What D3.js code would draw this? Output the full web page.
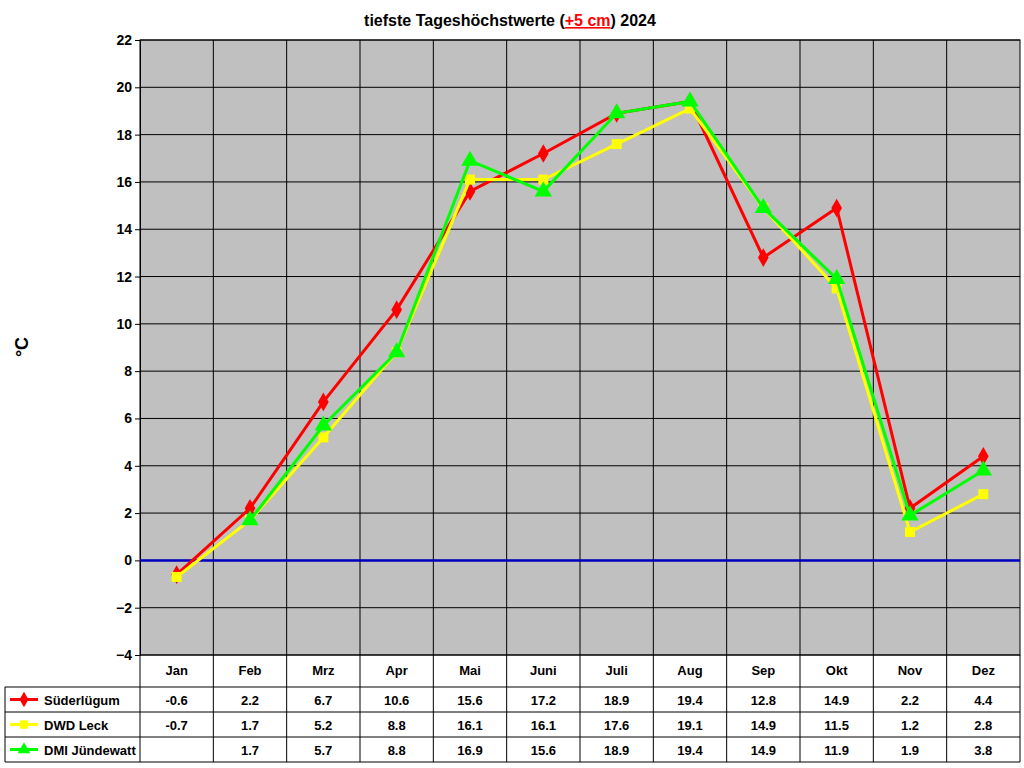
<!DOCTYPE html>
<html><head><meta charset="utf-8">
<script src="https://cdn.jsdelivr.net/npm/d3@7"></script>
<style>body{margin:0;background:#fff}svg{font-family:"Liberation Sans",Arial,sans-serif}</style>
</head><body><svg width="1024" height="768"></svg>
<script>
const months = ["Jan","Feb","Mrz","Apr","Mai","Juni","Juli","Aug","Sep","Okt","Nov","Dez"];
const suederluegum = [-0.6,2.2,6.7,10.6,15.6,17.2,18.9,19.4,12.8,14.9,2.2,4.4];
const dwdLeck = [-0.7,1.7,5.2,8.8,16.1,16.1,17.6,19.1,14.9,11.5,1.2,2.8];
const dmiJuendewatt = [null,1.7,5.7,8.8,16.9,15.6,18.9,19.4,14.9,11.9,1.9,3.8];
const yTicks = d3.range(-4, 23, 2);

const series = [
  {name:"Süderlügum", values:suederluegum, color:"#ff0000", shape:d3.symbolDiamond},
  {name:"DWD Leck", values:dwdLeck, color:"#ffff00", shape:d3.symbolSquare},
  {name:"DMI Jündewatt", values:dmiJuendewatt, color:"#00ff00", shape:d3.symbolTriangle}
];

const svg = d3.select("svg");
const pLeft = 140, pRight = 1020, pTop = 40, pBottom = 655;
const x = d3.scaleBand().domain(months).range([pLeft, pRight]);
const y = d3.scaleLinear().domain([-4, 22]).range([pBottom, pTop]);

// plot area
svg.append("rect").attr("x", pLeft).attr("y", pTop).attr("width", pRight - pLeft).attr("height", pBottom - pTop)
  .attr("fill", "#c0c0c0");

// grid
svg.append("g").selectAll("line").data(yTicks).join("line")
  .attr("x1", pLeft).attr("x2", pRight).attr("y1", d => y(d)).attr("y2", d => y(d))
  .attr("stroke", "#000").attr("stroke-width", 1);
svg.append("g").selectAll("line").data(months.slice(1)).join("line")
  .attr("x1", d => x(d)).attr("x2", d => x(d)).attr("y1", pTop).attr("y2", pBottom)
  .attr("stroke", "#000");
svg.append("rect").attr("x", pLeft).attr("y", pTop).attr("width", pRight - pLeft).attr("height", pBottom - pTop)
  .attr("fill", "none").attr("stroke", "#000");

// y axis
const ya = svg.append("g").attr("transform", `translate(${pLeft},0)`)
  .call(d3.axisLeft(y).tickValues(yTicks).tickSize(5).tickFormat(d3.format("d")));
ya.select(".domain").attr("stroke", "#000");
ya.selectAll("text").attr("font-size", 14).attr("font-weight", "bold").attr("font-family", "Liberation Sans, Arial").attr("fill", "#000");

// zero line
svg.append("line").attr("x1", pLeft).attr("x2", pRight).attr("y1", y(0)).attr("y2", y(0))
  .attr("stroke", "#0000c0").attr("stroke-width", 2.5);

// lines
const cx = d => x(d) + x.bandwidth() / 2;
series.forEach(s => {
  const pts = months.map((m, i) => ({m, v: s.values[i]}));
  const line = d3.line().defined(d => d.v != null).x(d => cx(d.m)).y(d => y(d.v));
  svg.append("path").datum(pts).attr("d", line).attr("fill", "none")
    .attr("stroke", s.color).attr("stroke-width", 3);
  svg.append("g").selectAll("path").data(pts.filter(d => d.v != null)).join("path")
    .attr("transform", d => `translate(${cx(d.m)},${y(d.v)})`)
    .attr("d", d3.symbol().type(s.shape).size(s.shape === d3.symbolTriangle ? 130 : 100))
    .attr("fill", s.color);
});

// title
const t = svg.append("text").attr("x", 510).attr("y", 26).attr("text-anchor", "middle")
  .attr("font-size", 16).attr("font-weight", "bold");
t.append("tspan").text("tiefste Tageshöchstwerte (");
t.append("tspan").text("+5 cm").attr("fill", "#ff0000").attr("text-decoration", "underline");
t.append("tspan").text(") 2024");

// y label
svg.append("text").attr("transform", "translate(28,347) rotate(-90)").attr("text-anchor", "middle")
  .attr("font-size", 18).attr("font-weight", "bold").text("°C");

// table
const rowH = 25, tblTop = 687;
const tbl = svg.append("g").attr("font-size", 13).attr("font-weight", "bold");
tbl.selectAll("text.m").data(months).join("text").attr("class", "m")
  .attr("x", d => cx(d)).attr("y", 675).attr("text-anchor", "middle").text(d => d);
tbl.selectAll("line.v").data(months.concat(["_end"])).join("line").attr("class", "v")
  .attr("x1", d => d === "_end" ? pRight : x(d)).attr("x2", d => d === "_end" ? pRight : x(d))
  .attr("y1", pBottom).attr("y2", tblTop + 3 * rowH).attr("stroke", "#000");
svg.append("line").attr("x1", 5).attr("x2", 5).attr("y1", tblTop).attr("y2", tblTop + 3 * rowH).attr("stroke", "#000");
d3.range(4).forEach(r => {
  svg.append("line").attr("x1", 5).attr("x2", pRight).attr("y1", tblTop + r * rowH).attr("y2", tblTop + r * rowH).attr("stroke", "#000");
});
series.forEach((s, r) => {
  const yy = tblTop + r * rowH + rowH / 2;
  svg.append("line").attr("x1", 10).attr("x2", 38).attr("y1", yy).attr("y2", yy).attr("stroke", s.color).attr("stroke-width", 3);
  svg.append("path").attr("transform", `translate(24,${yy})`)
    .attr("d", d3.symbol().type(s.shape).size(70)).attr("fill", s.color);
  tbl.append("text").attr("x", 44).attr("y", yy + 5).text(s.name);
  tbl.selectAll(null).data(months.map((m, i) => ({m, v: s.values[i]})).filter(d => d.v != null)).join("text")
    .attr("x", d => cx(d.m)).attr("y", yy + 5).attr("text-anchor", "middle").text(d => d.v.toFixed(1));
});
</script></body></html>
